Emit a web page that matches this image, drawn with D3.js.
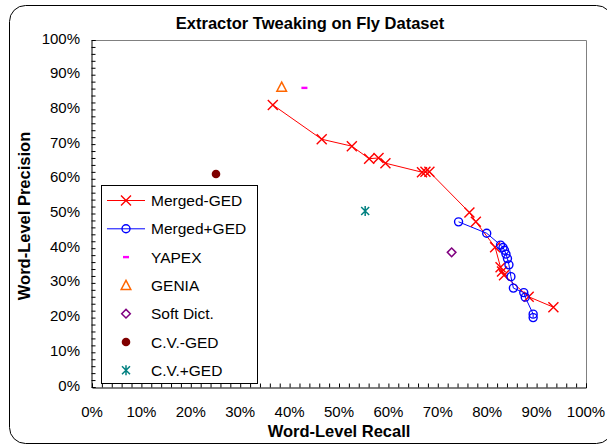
<!DOCTYPE html>
<html><head><meta charset="utf-8">
<script src="https://cdn.jsdelivr.net/npm/d3@7"></script>
<style>body{margin:0;background:#fff}svg{display:block}text{font-family:"Liberation Sans",Arial,sans-serif}</style>
</head><body>
<svg id="c" width="607" height="444"></svg>
<script>
// Data: [recall %, precision %]
const mergedMinusGED = [[36.6,81.3],[46.5,71.4],[52.6,69.4],[56.1,65.8],[58.0,66.0],[59.4,64.5],[66.8,61.9],[67.5,62.0],[68.3,62.0],[76.4,50.3],[77.7,47.6],[81.6,40.3],[82.7,34.5],[83.0,33.3],[83.4,32.2],[88.4,26.0],[93.4,23.0]];
const mergedPlusGED = [[74.2,47.6],[79.9,44.3],[82.7,40.9],[83.2,40.2],[83.5,39.4],[83.8,38.3],[84.1,37.0],[84.4,35.2],[84.8,31.8],[85.3,28.5],[87.4,27.2],[87.7,25.9],[89.3,21.0],[89.3,20.0]];
const yapex = [[43.0,86.2]];
const genia = [[38.4,86.4]];
const softDict = [[72.8,38.8]];
const cvMinusGED = [[25.1,61.4]];
const cvPlusGED = [[55.3,50.7]];
const xTicks = [0,10,20,30,40,50,60,70,80,90,100];
const yTicks = [0,10,20,30,40,50,60,70,80,90,100];
const seriesNames = ["Merged-GED","Merged+GED","YAPEX","GENIA","Soft Dict.","C.V.-GED","C.V.+GED"];

const svg = d3.select("#c");
const L=92,R=586,T=40,B=387;
const x = d3.scaleLinear().domain([0,100]).range([L,R]);
const y = d3.scaleLinear().domain([0,100]).range([B,T]);

// chart border
svg.append("rect").attr("x",9.5).attr("y",5.5).attr("width",603).attr("height",438).attr("rx",16)
  .attr("fill","none").attr("stroke","#000").attr("stroke-width",1);

// plot border top/right
svg.append("path").attr("d",`M${L},${T+0.5}H${R+0.5}V${B}`).attr("fill","none").attr("stroke","#808080");

// axes
const minor = d3.range(0,101,2);
const xAxis = d3.axisBottom(x).tickValues(minor).tickSize(-4).tickFormat("");
const yAxis = d3.axisLeft(y).tickValues(minor).tickSize(-4).tickFormat("");
svg.append("g").attr("transform",`translate(0,${B+0.5})`).call(xAxis)
  .call(g=>g.select(".domain").attr("stroke","#000")).call(g=>g.selectAll("line").attr("stroke","#000"));
svg.append("g").attr("transform",`translate(${L-0.5},0)`).call(yAxis)
  .call(g=>g.select(".domain").attr("stroke","#000")).call(g=>g.selectAll("line").attr("stroke","#000"));

svg.append("g").selectAll("text").data(xTicks).join("text")
  .attr("x",d=>x(d)).attr("y",416.5).attr("text-anchor","middle").attr("font-size",15).text(d=>d+"%");
svg.append("g").selectAll("text").data(yTicks).join("text")
  .attr("x",80).attr("y",d=>y(d)+3.5).attr("text-anchor","end").attr("font-size",15).text(d=>d+"%");

svg.append("text").attr("x",310).attr("y",29).attr("text-anchor","middle").attr("font-size",16.5).attr("font-weight","bold").text("Extractor Tweaking on Fly Dataset");
svg.append("text").attr("x",339).attr("y",437).attr("text-anchor","middle").attr("font-size",16.5).attr("font-weight","bold").text("Word-Level Recall");
svg.append("text").attr("transform","translate(30,216) rotate(-90)").attr("text-anchor","middle").attr("font-size",16.5).attr("font-weight","bold").text("Word-Level Precision");

// marker drawers
function drawMarker(g, type, cx, cy){
  if(type==="x"){
    g.append("path").attr("d",`M${cx-5},${cy-5}L${cx+5},${cy+5}M${cx-5},${cy+5}L${cx+5},${cy-5}`).attr("stroke","#FF0000").attr("stroke-width",1.4).attr("fill","none");
  } else if(type==="o"){
    g.append("circle").attr("cx",cx).attr("cy",cy).attr("r",4).attr("fill","none").attr("stroke","#0000FF").attr("stroke-width",1.4);
  } else if(type==="dash"){
    g.append("rect").attr("x",cx-3).attr("y",cy-1.2).attr("width",6).attr("height",2.4).attr("fill","#FF00FF");
  } else if(type==="tri"){
    g.append("path").attr("d",`M${cx},${cy-5}L${cx+4.8},${cy+4}L${cx-4.8},${cy+4}Z`).attr("fill","none").attr("stroke","#FF6600").attr("stroke-width",1.5);
  } else if(type==="dia"){
    g.append("path").attr("d",`M${cx},${cy-4.3}L${cx+4.3},${cy}L${cx},${cy+4.3}L${cx-4.3},${cy}Z`).attr("fill","none").attr("stroke","#800080").attr("stroke-width",1.5);
  } else if(type==="dot"){
    g.append("circle").attr("cx",cx).attr("cy",cy).attr("r",4.3).attr("fill","#800000");
  } else if(type==="ast"){
    g.append("path").attr("d",`M${cx-4},${cy-4}L${cx+4},${cy+4}M${cx-4},${cy+4}L${cx+4},${cy-4}M${cx},${cy-5}L${cx},${cy+5}`).attr("stroke","#008080").attr("stroke-width",1.5).attr("fill","none");
  }
}

const line = d3.line().x(d=>x(d[0])).y(d=>y(d[1]));
const gm = svg.append("g");
gm.append("path").attr("d",line(mergedMinusGED)).attr("fill","none").attr("stroke","#FF0000").attr("stroke-width",1);
gm.append("path").attr("d",line(mergedPlusGED)).attr("fill","none").attr("stroke","#0000FF").attr("stroke-width",1);
mergedMinusGED.forEach(d=>drawMarker(gm,"x",x(d[0]),y(d[1])));
mergedPlusGED.forEach(d=>drawMarker(gm,"o",x(d[0]),y(d[1])));
yapex.forEach(d=>drawMarker(gm,"dash",x(d[0]),y(d[1])));
genia.forEach(d=>drawMarker(gm,"tri",x(d[0]),y(d[1])));
softDict.forEach(d=>drawMarker(gm,"dia",x(d[0]),y(d[1])));
cvMinusGED.forEach(d=>drawMarker(gm,"dot",x(d[0]),y(d[1])));
cvPlusGED.forEach(d=>drawMarker(gm,"ast",x(d[0]),y(d[1])));

// legend
const lg = svg.append("g");
lg.append("rect").attr("x",101.5).attr("y",185.5).attr("width",156).attr("height",198).attr("fill","#fff").attr("stroke","#000");
const types=["x","o","dash","tri","dia","dot","ast"];
const lineColors=["#FF0000","#0000FF",null,null,null,null,null];
seriesNames.forEach((n,i)=>{
  const yy = 200.5 + i*28.3;
  if(lineColors[i]) lg.append("line").attr("x1",107).attr("x2",145).attr("y1",yy).attr("y2",yy).attr("stroke",lineColors[i]);
  drawMarker(lg,types[i],126,yy);
  lg.append("text").attr("x",151).attr("y",yy+5.5).attr("font-size",15.5).text(n);
});
</script>
</body></html>
